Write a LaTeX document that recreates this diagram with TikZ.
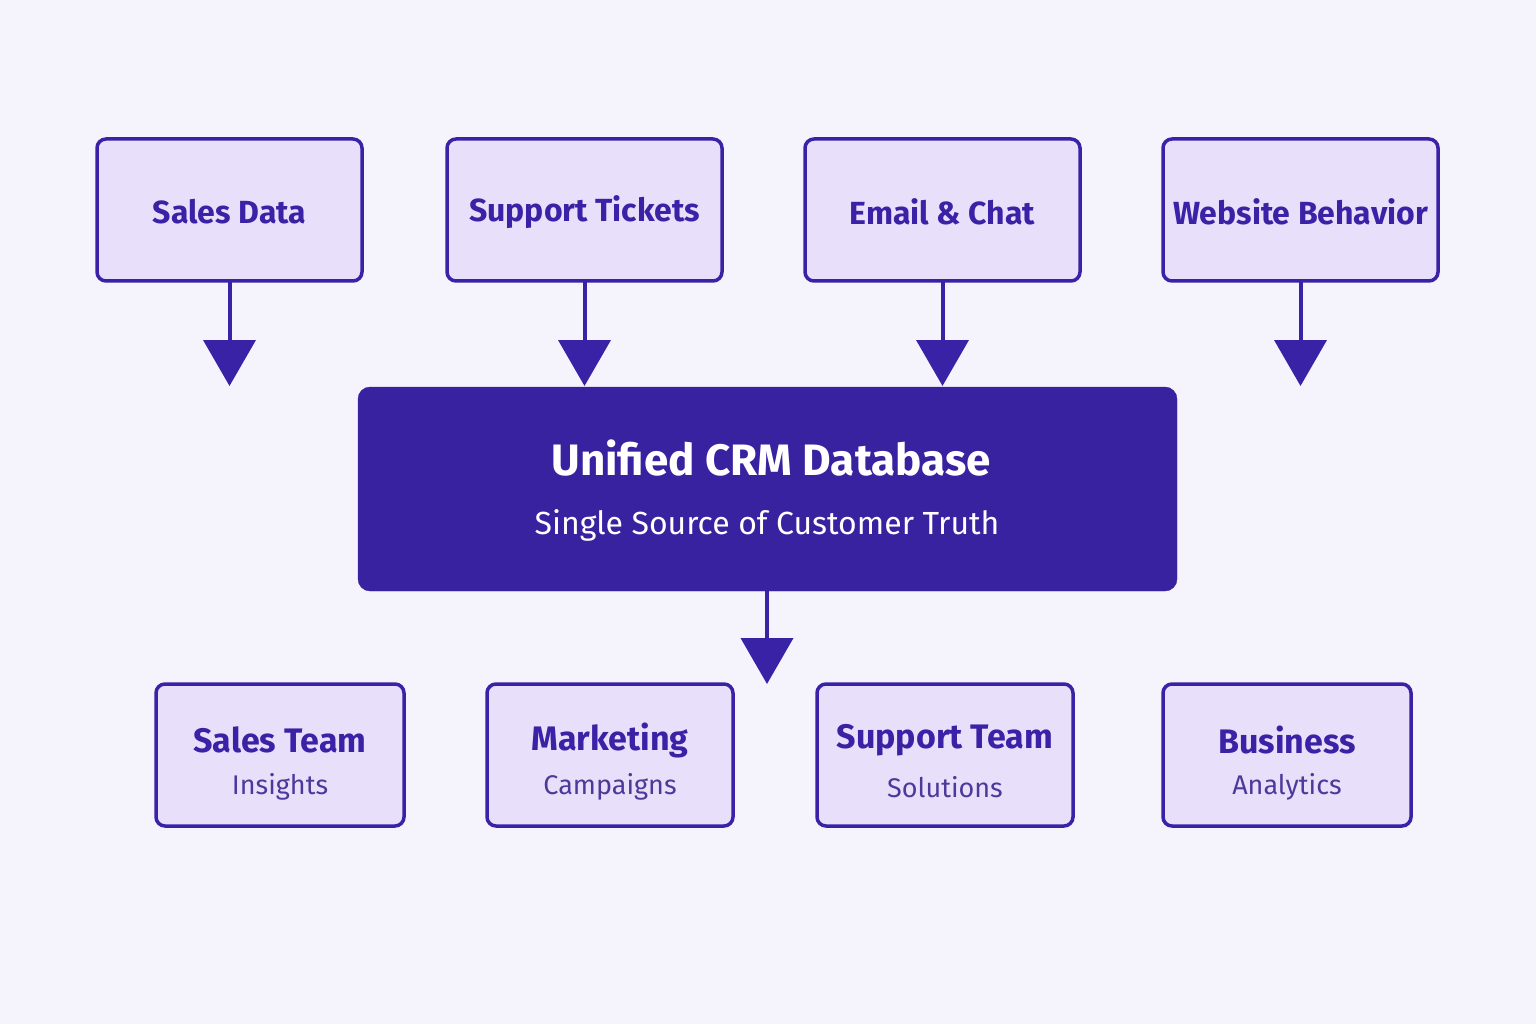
\documentclass[tikz,border=0pt]{standalone}
\usepackage{fontspec}
\setmainfont{Fira Sans}
\usetikzlibrary{arrows.meta}
\definecolor{bg}{HTML}{F5F4FC}
\definecolor{boxfill}{HTML}{E8DFFA}
\definecolor{ink}{HTML}{3A22A6}
\definecolor{dark}{HTML}{3922A0}
\definecolor{subink}{HTML}{4A3A9A}
\begin{document}
\begin{tikzpicture}[x=1pt,y=-1pt,
  src/.style={draw=ink,line width=3.5pt,fill=boxfill,rounded corners=9pt},
  lbl/.style={text=ink,font=\fontsize{32}{36}\selectfont\bfseries},
  sub/.style={text=subink,font=\fontsize{27}{30}\selectfont},
  arr/.style={draw=ink,line width=4pt,-{Triangle[width=52pt,length=46pt]}}]
\useasboundingbox[fill=bg] (0,0) rectangle (1536,1024);
% top boxes
\foreach \n/\a/\b/\t in {s1/97/362/Sales Data,s2/447/722/Support Tickets,s3/805/1080/Email \& Chat,s4/1163/1438/Website Behavior}{
  \draw[src] (\a,139) rectangle (\b,281);
  \node[lbl] (\n) at ({(\a+\b)/2},212) {\t};
  \coordinate (\n b) at ({(\a+\b)/2},281);
  \coordinate (\n e) at ({(\a+\b)/2},386);
  \draw[arr] (\n b) -- (\n e);
}
% central
\draw[fill=dark,draw=dark,rounded corners=12pt] (358,387) rectangle (1177,591);
\node[text=white,font=\fontsize{44}{50}\selectfont\bfseries] (crm) at (771,458) {Unified CRM Database};
\node[text=white,font=\fontsize{32}{36}\selectfont] (crms) at (767,525) {Single Source of Customer Truth};
\coordinate (cb) at (767,591);
\coordinate (ce) at (767,684);
\draw[arr] (cb) -- (ce);
% bottom boxes
\foreach \n/\a/\b/\t/\u in {o1/156/404/Sales Team/Insights,o2/487/733/Marketing/Campaigns,o3/817/1073/Support Team/Solutions,o4/1163/1411/Business/Analytics}{
  \draw[src] (\a,684) rectangle (\b,826);
  \node[lbl,font=\fontsize{34}{38}\selectfont\bfseries] (\n) at ({(\a+\b)/2},740) {\t};
  \node[sub] (\n s) at ({(\a+\b)/2},787) {\u};
}
\end{tikzpicture}
\end{document}
